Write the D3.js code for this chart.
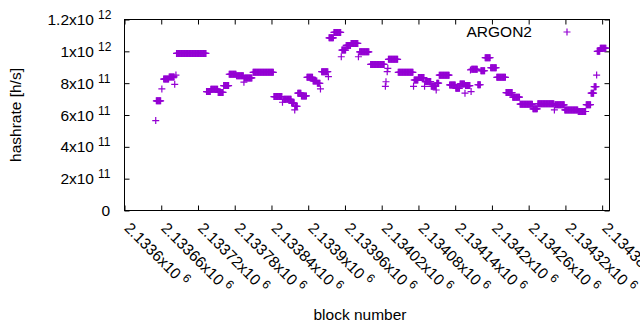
<!DOCTYPE html>
<html>
<head>
<meta charset="utf-8">
<script src="https://cdn.jsdelivr.net/npm/d3@7"></script>
<style>
  body { margin: 0; background: #fff; }
  text { font-family: "Liberation Sans", Arial, sans-serif; fill: #000; }
</style>
</head>
<body>
<svg id="chart" width="640" height="330"></svg>
<script>
// runs of blocks that share one hashrate value (x1e11 h/s)
const runStart = [2133651, 2133652, 2133661, 2133664, 2133673, 2133682, 2133684, 2133685, 2133734, 2133741,
  2133753, 2133762, 2133771, 2133783, 2133795, 2133796, 2133810, 2133844, 2133858, 2133860,
  2133873, 2133878, 2133879, 2133883, 2133889, 2133898, 2133908, 2133915, 2133920, 2133922,
  2133933, 2133934, 2133942, 2133954, 2133955, 2133962, 2133970, 2133982, 2133984, 2134002,
  2134026, 2134027, 2134029, 2134030, 2134031, 2134047, 2134072, 2134073, 2134080, 2134090,
  2134091, 2134101, 2134109, 2134110, 2134114, 2134131, 2134141, 2134148, 2134156, 2134157,
  2134165, 2134166, 2134167, 2134177, 2134182, 2134189, 2134198, 2134208, 2134223, 2134234,
  2134246, 2134267, 2134275, 2134302, 2134303, 2134319, 2134341, 2134354, 2134362, 2134367,
  2134371, 2134372, 2134377];
const runEnd = [2133651, 2133659, 2133661, 2133672, 2133681, 2133682, 2133684, 2133733, 2133740, 2133752,
  2133761, 2133770, 2133782, 2133794, 2133795, 2133808, 2133843, 2133857, 2133858, 2133872,
  2133877, 2133878, 2133882, 2133888, 2133897, 2133907, 2133914, 2133919, 2133920, 2133932,
  2133933, 2133941, 2133953, 2133954, 2133961, 2133969, 2133981, 2133982, 2133999, 2134024,
  2134026, 2134027, 2134029, 2134030, 2134046, 2134071, 2134072, 2134079, 2134089, 2134090,
  2134100, 2134108, 2134109, 2134113, 2134130, 2134140, 2134147, 2134155, 2134156, 2134164,
  2134165, 2134166, 2134176, 2134181, 2134188, 2134197, 2134207, 2134222, 2134233, 2134245,
  2134266, 2134274, 2134301, 2134302, 2134318, 2134340, 2134353, 2134361, 2134366, 2134370,
  2134371, 2134376, 2134386];
const runRate = [5.65, 6.89, 7.64, 8.26, 8.39, 7.93, 8.51, 9.87, 7.47, 7.62,
  7.42, 7.85, 8.56, 8.47, 8.06, 8.33, 8.68, 7.16, 6.80, 6.99,
  6.75, 6.32, 6.55, 7.37, 7.20, 8.37, 8.14, 7.99, 7.64, 8.72,
  8.41, 10.85, 11.19, 9.66, 10.08, 10.37, 10.50, 9.66, 9.97, 9.18,
  7.80, 8.09, 8.72, 8.93, 9.50, 8.68, 7.80, 8.20, 8.35, 7.80,
  8.10, 7.80, 7.57, 8.00, 8.50, 7.89, 7.68, 7.95, 7.37, 7.85,
  8.83, 7.47, 8.87, 7.90, 8.78, 9.60, 8.97, 8.37, 7.41, 7.12,
  6.68, 6.39, 6.71, 6.32, 6.64, 6.32, 6.22, 6.65, 7.37, 7.78,
  8.51, 10.00, 10.20];

const xTickValues = [2133600, 2133660, 2133720, 2133780, 2133840, 2133900, 2133960,
  2134020, 2134080, 2134140, 2134200, 2134260, 2134320, 2134380];
const xTickLabels = ["2.1336", "2.13366", "2.13372", "2.13378", "2.13384", "2.1339", "2.13396",
  "2.13402", "2.13408", "2.13414", "2.1342", "2.13426", "2.13432", "2.13438"];
const yTickValues = [0, 2e11, 4e11, 6e11, 8e11, 1e12, 1.2e12];
const yTickMantissa = ["0", "2", "4", "6", "8", "1", "1.2"];
const yTickExponent = ["", "11", "11", "11", "11", "12", "12"];

const seriesName = "ARGON2";
const color = "#9400d3";

// one point per block
const points = [];
runStart.forEach(function(s, i) {
  for (let b = s; b <= runEnd[i]; b++) points.push({ block: b, rate: runRate[i] * 1e11 });
});

const pLeft = 124.5, pRight = 609.5, pTop = 19.5, pBottom = 210.5;
const xScale = d3.scaleLinear().domain([2133600, 2134392]).range([pLeft, pRight]);
const yScale = d3.scaleLinear().domain([0, 1.2e12]).range([pBottom, pTop]);

const svg = d3.select('#chart');
svg.append('rect').attr('width', 640).attr('height', 330).attr('fill', '#fff');

// ticks on all four sides, pointing inward
svg.append('g').attr('transform', 'translate(' + pLeft + ',0)')
    .call(d3.axisLeft(yScale).tickValues(yTickValues).tickSize(-5).tickFormat(''));
svg.append('g').attr('transform', 'translate(' + pRight + ',0)')
    .call(d3.axisRight(yScale).tickValues(yTickValues).tickSize(-5).tickFormat(''));
svg.append('g').attr('transform', 'translate(0,' + pBottom + ')')
    .call(d3.axisBottom(xScale).tickValues(xTickValues).tickSize(-5).tickFormat(''));
svg.append('g').attr('transform', 'translate(0,' + pTop + ')')
    .call(d3.axisTop(xScale).tickValues(xTickValues).tickSize(-5).tickFormat(''));
svg.selectAll('.domain').remove();
svg.selectAll('.tick line').attr('stroke', '#000');

svg.append('rect')
    .attr('x', pLeft).attr('y', pTop)
    .attr('width', pRight - pLeft).attr('height', pBottom - pTop)
    .attr('fill', 'none').attr('stroke', '#000');

// y tick labels
svg.append('g').selectAll('text')
    .data(yTickValues)
    .enter()
    .append('text')
    .attr('x', (d, i) => i === 0 ? 110 : 94)
    .attr('y', d => yScale(d) + 5.5)
    .attr('text-anchor', 'end')
    .style('font-size', '15.5px')
    .text((d, i) => yTickMantissa[i] + (i === 0 ? '' : 'x10'));
svg.append('g').selectAll('text')
    .data(yTickValues.filter((d, i) => yTickExponent[i] !== ''))
    .enter()
    .append('text')
    .attr('x', 98)
    .attr('y', d => yScale(d) - 0.5)
    .style('font-size', '12px')
    .text((d, i) => yTickExponent[i + 1]);

// x tick labels, rotated
const xLab = svg.append('g').selectAll('text')
    .data(xTickValues)
    .enter()
    .append('text')
    .attr('transform', d => 'translate(' + (xScale(d) - 1) + ',229) rotate(45)')
    .style('font-size', '15.5px');
xLab.append('tspan').text((d, i) => xTickLabels[i] + 'x10');
xLab.append('tspan').attr('dx', 4).attr('dy', -6).style('font-size', '12px').text('6');

// axis titles
svg.append('text')
    .attr('x', 360).attr('y', 320)
    .attr('text-anchor', 'middle')
    .style('font-size', '15.5px')
    .text('block number');
svg.append('text')
    .attr('transform', 'translate(21,115) rotate(-90)')
    .attr('text-anchor', 'middle')
    .style('font-size', '15.5px')
    .text('hashrate [h/s]');

// points
const plus = 'M-3.5,0H3.5M0,-3.5V3.5';
svg.append('g').selectAll('path')
    .data(points)
    .enter()
    .append('path')
    .attr('d', plus)
    .attr('transform', d => 'translate(' + xScale(d.block) + ',' + yScale(d.rate) + ')')
    .attr('fill', 'none')
    .attr('stroke', color)
    .attr('stroke-width', 1.2);

// key
svg.append('text')
    .attr('x', 532).attr('y', 37)
    .attr('text-anchor', 'end')
    .style('font-size', '15.5px')
    .text(seriesName);
svg.append('path')
    .attr('d', plus)
    .attr('transform', 'translate(567,32)')
    .attr('fill', 'none')
    .attr('stroke', color)
    .attr('stroke-width', 1.2);
</script>
</body>
</html>
